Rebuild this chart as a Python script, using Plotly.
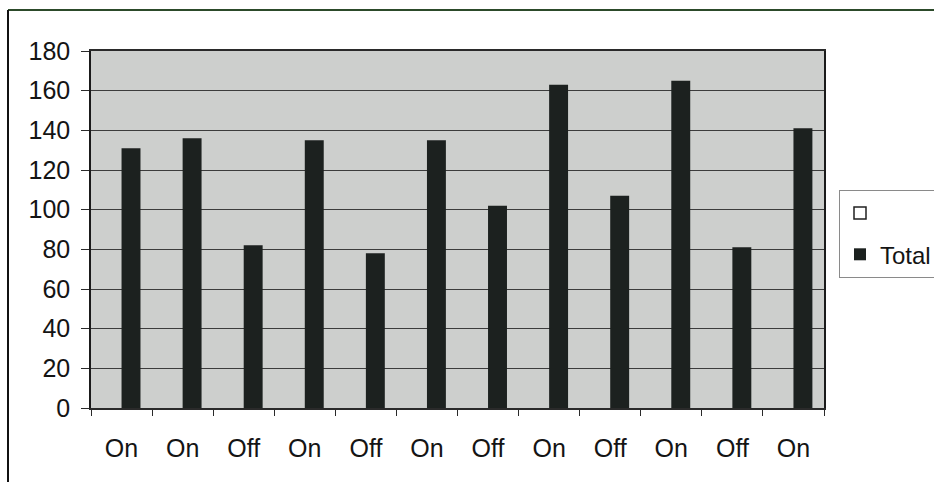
import plotly.graph_objects as go

# Chart data
states = ["On", "On", "Off", "On", "Off", "On", "Off", "On", "Off", "On", "Off", "On"]
totals = [131, 136, 82, 135, 78, 135, 102, 163, 107, 165, 81, 141]
y_ticks = [0, 20, 40, 60, 80, 100, 120, 140, 160, 180]

positions = list(range(len(states)))

W, H = 934, 482
ML, MR, MT, MB = 91, 110, 51, 74
plot_w = W - ML - MR
plot_h = H - MT - MB

FONT = "Liberation Sans, Arial, sans-serif"
INK = "#141414"
BAR = "#1c211f"
BG = "#cdcfcd"

fig = go.Figure()

# Unnamed, empty series that only shows in the legend
fig.add_trace(go.Bar(
    x=positions, y=[None] * len(positions), name="",
    marker=dict(color="white", line=dict(color="#202020", width=1.5)),
    legendgroup="a", showlegend=True,
))

# Total series, drawn in the right half of each category slot
fig.add_trace(go.Bar(
    x=positions, y=totals, name="Total",
    offset=0, width=0.31,
    marker=dict(color=BAR, line=dict(width=0)),
    legendgroup="b",
))

# Outer chart frame (top and left edges)
def px_x(px):
    return (px - ML) / plot_w

def px_y(py):
    return (H - MB - py) / plot_h

fig.add_shape(type="line", xref="paper", yref="paper",
              x0=px_x(8), x1=px_x(W + 5), y0=px_y(10), y1=px_y(10),
              line=dict(color="#2c4a2a", width=2))
fig.add_shape(type="line", xref="paper", yref="paper",
              x0=px_x(8), x1=px_x(8), y0=px_y(10), y1=px_y(H + 5),
              line=dict(color="#111111", width=2))

fig.update_layout(
    width=W, height=H,
    margin=dict(l=ML, r=MR, t=MT, b=MB, pad=0, autoexpand=False),
    paper_bgcolor="white",
    plot_bgcolor=BG,
    barmode="overlay",
    font=dict(family=FONT, size=25, color=INK),
    showlegend=True,
    legend=dict(
        x=px_x(839), y=px_y(190), xanchor="left", yanchor="top",
        bordercolor="#8a8a8a", borderwidth=1, bgcolor="white",
        font=dict(family=FONT, size=24, color=INK),
        traceorder="grouped", tracegroupgap=7,
        itemwidth=30,
    ),
    xaxis=dict(
        range=[-0.5, len(states) - 0.5],
        tickmode="array", tickvals=positions, ticktext=states,
        ticks="", showgrid=False, zeroline=False,
        showline=True, linecolor="#2a2a2a", linewidth=1.5, mirror=True,
        ticklabelstandoff=17,
        minor=dict(tickmode="linear", tick0=-0.5, dtick=1, ticks="outside",
                   ticklen=6, tickcolor="#2a2a2a", tickwidth=1, showgrid=False),
        fixedrange=True,
    ),
    yaxis=dict(
        range=[0, 180],
        tickmode="array", tickvals=y_ticks,
        ticks="outside", ticklen=8, tickcolor="#2a2a2a", tickwidth=1,
        ticklabelstandoff=6,
        showgrid=True, gridcolor="#3c3c3c", gridwidth=1.3,
        zeroline=False,
        showline=True, linecolor="#1a1a1a", linewidth=1.5, mirror=True,
        fixedrange=True,
    ),
)

fig.write_html("out.html", config={"displayModeBar": False})
